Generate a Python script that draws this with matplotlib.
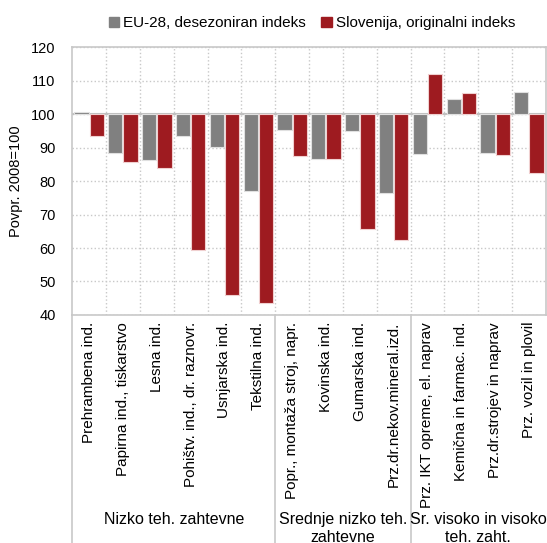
import numpy as np
import matplotlib.pyplot as plt
from matplotlib.patches import Patch

plt.rcParams['font.family'] = ['Liberation Sans', 'DejaVu Sans']

kategorije = ["Prehrambena ind.", "Papirna ind., tiskarstvo", "Lesna ind.",
              "Pohištv. ind., dr. raznovr.", "Usnjarska ind.", "Tekstilna ind.",
              "Popr., montaža stroj, napr.", "Kovinska ind.", "Gumarska ind.",
              "Prz.dr.nekov.mineral.izd.", "Prz. IKT opreme, el. naprav",
              "Kemična in farmac. ind.", "Prz.dr.strojev in naprav", "Prz. vozil in plovil"]
eu28 = [100.5, 88.5, 86.2, 93.5, 90.2, 77.1, 95.2, 86.5, 94.9, 76.3, 88.2, 104.6, 88.5, 106.7]
slo = [93.5, 85.7, 83.8, 59.4, 45.9, 43.7, 87.4, 86.5, 65.6, 62.3, 112.0, 106.3, 87.9, 82.5]
skupine = ["Nizko teh. zahtevne", "Srednje nizko teh.\nzahtevne", "Sr. visoko in visoko\nteh. zaht."]
meje = [0, 6, 10, 14]

siva = "#808080"
rdeca = "#9e1b20"
mreza = "#c8c8c8"

fig = plt.figure(figsize=(5.47, 5.43), dpi=100)
ax = fig.add_axes([0.132, 0.42, 0.866, 0.493])

x = np.arange(len(kategorije))
w = 0.42
ax.bar(x - 0.225, np.array(eu28) - 100, w, bottom=100, color=siva, edgecolor="#e0e0e0", linewidth=0.8, zorder=3)
ax.bar(x + 0.225, np.array(slo) - 100, w, bottom=100, color=rdeca, edgecolor="#f0d0d0", linewidth=0.8, zorder=3)
ax.axhline(100, color="#c0c0c0", lw=1.5, zorder=2)

ax.set_xlim(-0.5, len(kategorije) - 0.5)
ax.set_ylim(40, 120)
ax.set_yticks(range(40, 121, 10))
ax.set_xticks(x)
ax.set_xticklabels(kategorije, rotation=90, fontsize=11)
ax.tick_params(axis="x", length=0, pad=5)
ax.tick_params(axis="y", length=0, labelsize=10.5, pad=12)
ax.set_xticks(x[:-1] + 0.5, minor=True)
ax.tick_params(axis="x", which="minor", length=0)
ax.grid(True, which="minor", axis="x", ls=":", color=mreza, lw=1)
ax.grid(True, which="major", axis="y", ls=":", color=mreza, lw=1)
ax.set_axisbelow(True)
for s in ax.spines.values():
    s.set_color(mreza)
    s.set_linewidth(1.2)
ax.set_ylabel("Povpr. 2008=100", fontsize=10.5, labelpad=6)

# crte med skupinami in imena skupin
tr = ax.get_xaxis_transform()
for m in meje[:-1]:
    ax.plot([m - 0.5, m - 0.5], [0, -0.9], transform=tr, color=mreza, lw=1.2, clip_on=False)
for i, ime in enumerate(skupine):
    sred = (meje[i] + meje[i + 1]) / 2 - 0.5
    ax.text(sred, -0.735, ime, transform=tr, ha="center", va="top", fontsize=11.5, linespacing=1.3)

fig.legend(handles=[Patch(color=siva, label="EU-28, desezoniran indeks"),
                    Patch(color=rdeca, label="Slovenija, originalni indeks")],
           loc="upper center", bbox_to_anchor=(0.57, 0.995), ncol=2, frameon=False,
           fontsize=11, handlelength=0.7, handleheight=0.7, handletextpad=0.25,
           columnspacing=1.0)

fig.savefig("out.png", dpi=100)
